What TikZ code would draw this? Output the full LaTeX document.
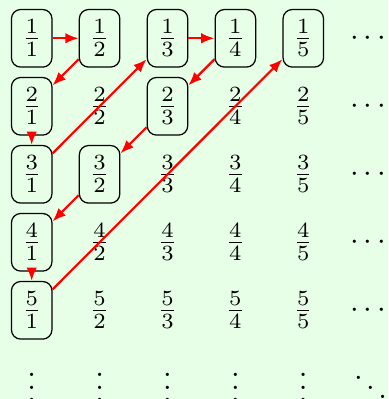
\documentclass[tikz,border=0pt]{standalone}
\usetikzlibrary{arrows.meta}
\definecolor{bgpale}{RGB}{230,255,230}
\begin{document}
\begin{tikzpicture}[x=0.3222pt,y=-0.3222pt,
  frac/.style={inner sep=0.3333em},
  boxed/.style={frac,draw,rounded corners=3pt},
  arr/.style={red,line width=0.7pt,-{Latex[length=4.3pt,width=3.4pt]}}]
\fill[bgpale] (0,0) rectangle (388,399);
\useasboundingbox (0,0) rectangle (388,399);
% row 1
\node[boxed] (n11) at (31.7,38.3) {$\frac{1}{1}$};
\node[boxed] (n12) at (99.6,38.3) {$\frac{1}{2}$};
\node[boxed] (n13) at (167.5,38.3) {$\frac{1}{3}$};
\node[boxed] (n14) at (235.4,38.3) {$\frac{1}{4}$};
\node[boxed] (n15) at (303.3,38.3) {$\frac{1}{5}$};
\node (h1) at (368.3,38.3) {$\cdots$};
% row 2
\node[boxed] (n21) at (31.7,106.3) {$\frac{2}{1}$};
\node[frac] (n22) at (99.6,106.3) {$\frac{2}{2}$};
\node[boxed] (n23) at (167.5,106.3) {$\frac{2}{3}$};
\node[frac] (n24) at (235.4,106.3) {$\frac{2}{4}$};
\node[frac] (n25) at (303.3,106.3) {$\frac{2}{5}$};
\node (h2) at (368.3,106.3) {$\cdots$};
% row 3
\node[boxed] (n31) at (31.7,174.3) {$\frac{3}{1}$};
\node[boxed] (n32) at (99.6,174.3) {$\frac{3}{2}$};
\node[frac] (n33) at (167.5,174.3) {$\frac{3}{3}$};
\node[frac] (n34) at (235.4,174.3) {$\frac{3}{4}$};
\node[frac] (n35) at (303.3,174.3) {$\frac{3}{5}$};
\node (h3) at (368.3,174.3) {$\cdots$};
% row 4
\node[boxed] (n41) at (31.7,242.3) {$\frac{4}{1}$};
\node[frac] (n42) at (99.6,242.3) {$\frac{4}{2}$};
\node[frac] (n43) at (167.5,242.3) {$\frac{4}{3}$};
\node[frac] (n44) at (235.4,242.3) {$\frac{4}{4}$};
\node[frac] (n45) at (303.3,242.3) {$\frac{4}{5}$};
\node (h4) at (368.3,242.3) {$\cdots$};
% row 5
\node[boxed] (n51) at (31.7,310.3) {$\frac{5}{1}$};
\node[frac] (n52) at (99.6,310.3) {$\frac{5}{2}$};
\node[frac] (n53) at (167.5,310.3) {$\frac{5}{3}$};
\node[frac] (n54) at (235.4,310.3) {$\frac{5}{4}$};
\node[frac] (n55) at (303.3,310.3) {$\frac{5}{5}$};
\node (h5) at (368.3,310.3) {$\cdots$};
% row 6
\node (v1) at (31.7,378.3) {$\vdots$};
\node (v2) at (99.6,378.3) {$\vdots$};
\node (v3) at (167.5,378.3) {$\vdots$};
\node (v4) at (235.4,378.3) {$\vdots$};
\node (v5) at (303.3,378.3) {$\vdots$};
\node (d6) at (370.5,378.3) {$\ddots$};
% arrows
\draw[arr] (n11) -- (n12);
\draw[arr] (n12) -- (n21);
\draw[arr] (n21) -- (n31);
\draw[arr] (n31) -- (n13);
\draw[arr] (n13) -- (n14);
\draw[arr] (n14) -- (n23);
\draw[arr] (n23) -- (n32);
\draw[arr] (n32) -- (n41);
\draw[arr] (n41) -- (n51);
\draw[arr] (n51) -- (n15);
\end{tikzpicture}
\end{document}
